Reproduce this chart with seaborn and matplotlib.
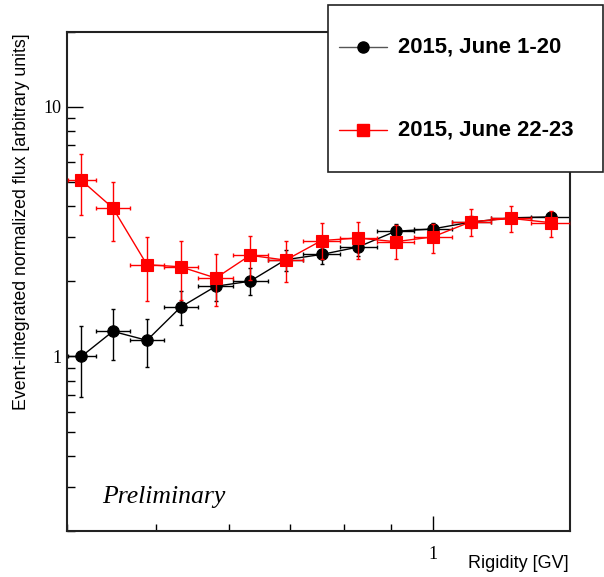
import numpy as np
import pandas as pd
import matplotlib
matplotlib.use("Agg")
import matplotlib.pyplot as plt
import seaborn as sns
from matplotlib.ticker import LogLocator, NullFormatter, FuncFormatter
from matplotlib.patches import Rectangle
from matplotlib.lines import Line2D

# ---------------- data ----------------
rigidity = [0.415, 0.449, 0.489, 0.532, 0.581, 0.633, 0.692, 0.757, 0.829, 0.911, 1.0, 1.10, 1.217, 1.346]
bin_lo = [0.401, 0.430, 0.4686, 0.5105, 0.5558, 0.6066, 0.6622, 0.723, 0.792, 0.8688, 0.9536, 1.0495, 1.156, 1.278]
bin_hi = [0.430, 0.4686, 0.5105, 0.5558, 0.6066, 0.6622, 0.723, 0.792, 0.8688, 0.9536, 1.0495, 1.156, 1.278, 1.413]

june_1_20 = [1.00, 1.26, 1.16, 1.575, 1.91, 2.00, 2.44, 2.56, 2.74, 3.17, 3.24, 3.45, 3.59, 3.62]
june_1_20_lo = [0.685, 0.97, 0.909, 1.334, 1.665, 1.76, 2.19, 2.35, 2.52, 3.03, 3.12, 3.27, 3.43, 3.48]
june_1_20_hi = [1.32, 1.55, 1.415, 1.825, 2.16, 2.25, 2.68, 2.70, 2.85, 3.39, 3.43, 3.65, 3.76, 3.80]

june_22_23 = [5.07, 3.93, 2.33, 2.285, 2.06, 2.54, 2.43, 2.91, 2.98, 2.88, 3.01, 3.46, 3.57, 3.43]
june_22_23_lo = [3.67, 2.89, 1.665, 1.69, 1.59, 2.03, 1.98, 2.46, 2.46, 2.46, 2.60, 3.03, 3.14, 3.01]
june_22_23_hi = [6.47, 4.98, 3.01, 2.91, 2.56, 3.03, 2.89, 3.43, 3.45, 3.35, 3.39, 3.91, 3.99, 3.81]

series_labels = ["2015, June 1-20", "2015, June 22-23"]
series_colors = ["black", "red"]
series_markers = ["o", "s"]

# ---------------- figure ----------------
sns.set_theme(style="white")
plt.rcParams["font.family"] = ["Liberation Sans", "DejaVu Sans"]

W, H = 604, 577
fig = plt.figure(figsize=(W / 100, H / 100), dpi=100)
fig.patch.set_facecolor("white")
L, R, T, B = 66.7, 570.0, 31.5, 531.0
ax = fig.add_axes([L / W, 1 - B / H, (R - L) / W, (B - T) / H])
ax.set_facecolor("white")

df = pd.DataFrame({
    "Rigidity": rigidity * 2,
    "Flux": june_1_20 + june_22_23,
    "Series": [series_labels[0]] * len(rigidity) + [series_labels[1]] * len(rigidity),
})

x = np.array(rigidity)
xerr = [x - np.array(bin_lo), np.array(bin_hi) - x]
for i, (yv, ylo, yhi) in enumerate([(june_1_20, june_1_20_lo, june_1_20_hi),
                                     (june_22_23, june_22_23_lo, june_22_23_hi)]):
    yv = np.array(yv)
    yerr = [yv - np.array(ylo), np.array(yhi) - yv]
    c = series_colors[i]
    ax.errorbar(x, yv, xerr=xerr, yerr=yerr, fmt="none", ecolor=c, elinewidth=1.0,
                capsize=1.6, capthick=1.0, zorder=2 + 2 * i)
    sns.lineplot(data=df[df["Series"] == series_labels[i]], x="Rigidity", y="Flux",
                 ax=ax, color=c, marker=series_markers[i], markersize=8.2 if i == 0 else 8.0,
                 markeredgecolor=c, markeredgewidth=0.8, linewidth=1.0, sort=False,
                 estimator=None, legend=False, zorder=3 + 2 * i)

ax.set_xscale("log")
ax.set_yscale("log")
ax.set_xlim(0.4, 1.41)
ax.set_ylim(0.2, 20)

fmt = FuncFormatter(lambda v, p: f"{v:g}")
ax.xaxis.set_major_locator(LogLocator(base=10))
ax.xaxis.set_minor_locator(LogLocator(base=10, subs=np.arange(2, 10)))
ax.yaxis.set_major_locator(LogLocator(base=10))
ax.yaxis.set_minor_locator(LogLocator(base=10, subs=np.arange(2, 10)))
ax.xaxis.set_major_formatter(fmt)
ax.yaxis.set_major_formatter(fmt)
ax.xaxis.set_minor_formatter(NullFormatter())
ax.yaxis.set_minor_formatter(NullFormatter())

ax.tick_params(which="both", direction="in", bottom=True, left=True, top=False,
               right=False, colors="black")
ax.tick_params(axis="y", which="major", length=11.5, width=1.0, pad=3.5, labelsize=13)
ax.tick_params(axis="y", which="minor", length=5.8, width=1.0)
ax.tick_params(axis="x", which="major", length=10.5, width=1.0, pad=11, labelsize=13)
ax.tick_params(axis="x", which="minor", length=5.3, width=1.0)
for lab in ax.get_xticklabels() + ax.get_yticklabels():
    lab.set_fontfamily("Liberation Serif")
for sp in ax.spines.values():
    sp.set_linewidth(1.5)
    sp.set_color("#222222")

ax.set_xlabel("")
ax.set_ylabel("")

# axis titles (ROOT style, right aligned)
fig.text(569 / W, 1 - 564 / H, "Rigidity [GV]", ha="right", va="center", fontsize=13,
         color="black")
fig.text(22 / W, 1 - 33 / H, "Event-integrated normalized flux [arbitrary units]",
         ha="center", va="top", rotation=90, fontsize=12.8, color="black")

fig.text(102 / W, 1 - 497 / H, "Preliminary", ha="left", va="center", fontsize=18.5,
         fontstyle="italic", fontfamily="Liberation Serif", color="black")

# legend box
lx0, ly0, lx1, ly1 = 328, 5, 603, 172
fig.add_artist(Rectangle((lx0 / W, 1 - ly1 / H), (lx1 - lx0) / W, (ly1 - ly0) / H,
                         transform=fig.transFigure, facecolor="white",
                         edgecolor="#222222", linewidth=1.2, zorder=10))
for i, yy in enumerate([47, 130]):
    c = series_colors[i]
    fig.add_artist(Line2D([339 / W, 387 / W], [1 - yy / H, 1 - yy / H],
                          transform=fig.transFigure, color=c if i == 1 else "#555555",
                          linewidth=1.0, zorder=11))
    fig.add_artist(Line2D([363 / W], [1 - yy / H], transform=fig.transFigure,
                          marker=series_markers[i], markersize=8,
                          color=c, markeredgecolor=c, linestyle="none", zorder=12))
    fig.text(398 / W, 1 - yy / H, series_labels[i], ha="left", va="center",
             fontsize=15.9, fontweight="bold", color="black", zorder=12)

fig.savefig("out.png", dpi=100, facecolor="white")
